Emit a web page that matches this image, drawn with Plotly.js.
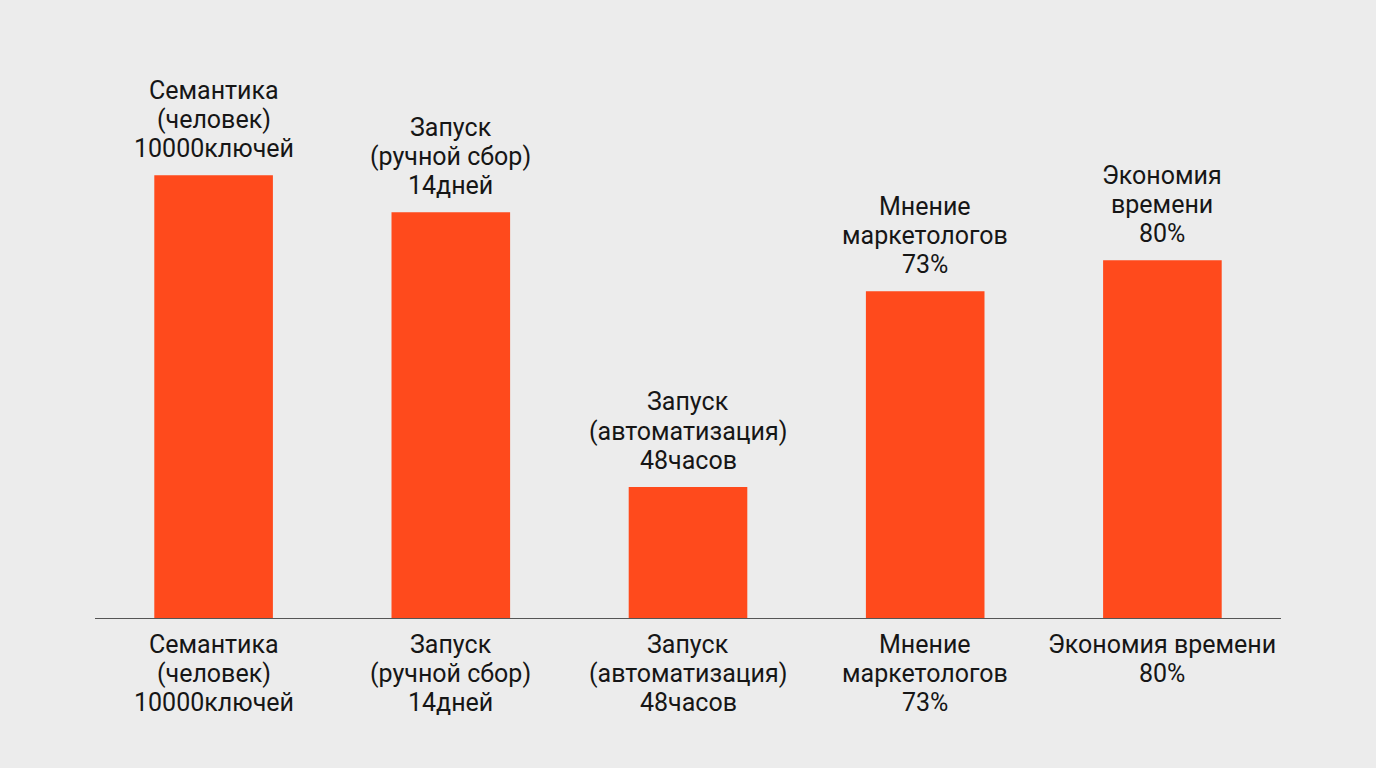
<!DOCTYPE html>
<html>
<head>
<meta charset="utf-8">
<script src="https://cdn.plot.ly/plotly-3.0.1.min.js"></script>
<style>
html,body{margin:0;padding:0;background:#ECECEC;}
#chart{width:1376px;height:768px;}
</style>
</head>
<body>
<div id="chart"></div>
<script>
const categories = [
  "Семантика (человек) 10000ключей",
  "Запуск (ручной сбор) 14дней",
  "Запуск (автоматизация) 48часов",
  "Мнение маркетологов 73%",
  "Экономия времени 80%"
];
const tickLabels = [
  ["Семантика", "(человек)", "10000ключей"],
  ["Запуск", "(ручной сбор)", "14дней"],
  ["Запуск", "(автоматизация)", "48часов"],
  ["Мнение", "маркетологов", "73%"],
  ["Экономия времени", "80%"]
];
const barLabels = [
  ["Семантика", "(человек)", "10000ключей"],
  ["Запуск", "(ручной сбор)", "14дней"],
  ["Запуск", "(автоматизация)", "48часов"],
  ["Мнение", "маркетологов", "73%"],
  ["Экономия", "времени", "80%"]
];
const values = [100, 91.6, 29.6, 73.8, 80.8];

const barColor = "#FF4A1C";
const bg = "#ECECEC";
const font = "Roboto, 'Noto Sans', sans-serif";
const fsize = 25;
const lineGap = 29.25;
const textColor = "#161616";

const annotations = [];
categories.forEach((c, i) => {
  const lines = barLabels[i];
  lines.forEach((ln, k) => {
    annotations.push({
      x: c, y: values[i], xref: "x", yref: "y",
      text: ln, showarrow: false,
      yanchor: "middle", xanchor: "center",
      yshift: 26.5 + lineGap * (lines.length - 1 - k),
      font: {family: font, size: fsize, color: textColor}
    });
  });
  tickLabels[i].forEach((ln, k) => {
    annotations.push({
      x: c, y: 0, xref: "x", yref: "y",
      text: ln, showarrow: false,
      yanchor: "middle", xanchor: "center",
      yshift: -(26 + lineGap * k),
      font: {family: font, size: fsize, color: textColor}
    });
  });
});

Plotly.newPlot("chart", [{
  type: "bar",
  x: categories,
  y: values,
  marker: {color: barColor},
  hoverinfo: "none"
}], {
  width: 1376, height: 768,
  paper_bgcolor: bg, plot_bgcolor: bg,
  margin: {l: 95, r: 95, t: 60, b: 150},
  bargap: 0.5,
  showlegend: false,
  font: {family: font, size: fsize, color: textColor},
  xaxis: {
    type: "category",
    showline: true, linecolor: "#555555", linewidth: 1,
    ticks: "", showgrid: false, zeroline: false,
    showticklabels: false
  },
  yaxis: {
    range: [0, 126],
    visible: false, showgrid: false, zeroline: false
  },
  annotations: annotations
}, {staticPlot: true});
</script>
</body>
</html>
